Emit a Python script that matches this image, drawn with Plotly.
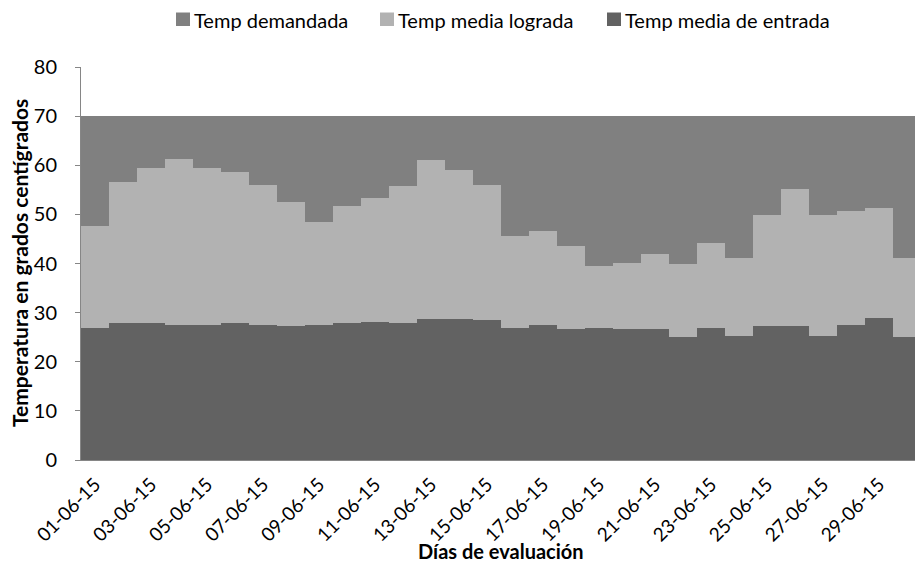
import plotly.graph_objects as go

# ---------------- data ----------------
dias = ["01-06-15", "02-06-15", "03-06-15", "04-06-15", "05-06-15", "06-06-15",
        "07-06-15", "08-06-15", "09-06-15", "10-06-15", "11-06-15", "12-06-15",
        "13-06-15", "14-06-15", "15-06-15", "16-06-15", "17-06-15", "18-06-15",
        "19-06-15", "20-06-15", "21-06-15", "22-06-15", "23-06-15", "24-06-15",
        "25-06-15", "26-06-15", "27-06-15", "28-06-15", "29-06-15", "30-06-15"]
temp_demandada = [70, 70, 70, 70, 70, 70, 70, 70, 70, 70, 70, 70, 70, 70, 70,
                  70, 70, 70, 70, 70, 70, 70, 70, 70, 70, 70, 70, 70, 70, 70]
temp_lograda = [47.7, 56.6, 59.4, 61.2, 59.4, 58.7, 56.0, 52.5, 48.4, 51.7,
                53.4, 55.8, 61.0, 59.0, 55.9, 45.6, 46.6, 43.5, 39.5, 40.2,
                41.9, 39.9, 44.2, 41.2, 49.8, 55.1, 49.8, 50.7, 51.4, 41.2]
temp_entrada = [26.8, 27.8, 27.8, 27.5, 27.5, 27.8, 27.5, 27.2, 27.5, 27.8,
                28.1, 27.8, 28.8, 28.8, 28.6, 26.9, 27.5, 26.6, 26.9, 26.6,
                26.6, 25.0, 26.9, 25.2, 27.2, 27.2, 25.2, 27.5, 28.9, 25.0]
tick_labels = ["01-06-15", "03-06-15", "05-06-15", "07-06-15", "09-06-15",
               "11-06-15", "13-06-15", "15-06-15", "17-06-15", "19-06-15",
               "21-06-15", "23-06-15", "25-06-15", "27-06-15", "29-06-15"]
series_names = ["Temp demandada", "Temp media lograda", "Temp media de entrada"]
y_ticks = [0, 10, 20, 30, 40, 50, 60, 70, 80]

# ---------------- style ----------------
colors = ["#808080", "#b2b2b2", "#626262"]
FONT = "Lato"
W, H = 915, 565
L, R, T, B = 81, 0, 67, 105
plot_w = W - L - R
plot_h = H - T - B


def px_x(px):
    return (px - L) / plot_w


def px_y(py):
    return (H - B - py) / plot_h


fig = go.Figure()
for name, vals, col in zip(series_names,
                           [temp_demandada, temp_lograda, temp_entrada], colors):
    fig.add_trace(go.Bar(x=dias, y=vals, name=name, marker_color=col,
                         marker_line_width=0, width=1.0, showlegend=False))

fig.update_layout(
    width=W, height=H,
    margin=dict(l=L, r=R, t=T, b=B, pad=0),
    barmode="overlay", bargap=0,
    plot_bgcolor="white", paper_bgcolor="white",
    font=dict(family=FONT, color="#000000", size=20),
)
fig.update_xaxes(
    type="category", range=[-0.5, 29.286],
    tickmode="array", tickvals=tick_labels, ticktext=tick_labels,
    tickangle=-45, tickfont=dict(size=19, family=FONT),
    showline=True, linecolor="#868686", linewidth=1,
    ticks="", showgrid=False, ticklabelstandoff=5,
)
fig.update_yaxes(
    range=[0, 80], tickvals=y_ticks,
    tickfont=dict(size=20, family=FONT),
    showline=True, linecolor="#868686", linewidth=1,
    ticks="outside", ticklen=5, tickcolor="#868686",
    showgrid=True, gridcolor="#c8c8c8", gridwidth=1,
    ticklabelstandoff=14, zeroline=False,
)

# axis titles
fig.add_annotation(text="<b>Días de evaluación</b>", xref="paper", yref="paper",
                   x=px_x(501), y=px_y(551), xanchor="center", yanchor="middle",
                   showarrow=False, font=dict(size=20, family=FONT))
fig.add_annotation(text="<b>Temperatura en grados centígrados</b>", xref="paper",
                   yref="paper", x=px_x(19), y=px_y(263), xanchor="center",
                   yanchor="middle", textangle=-90, showarrow=False,
                   font=dict(size=21, family=FONT))

# legend (manual, matching layout)
sq_left = [176, 380, 607]
for name, col, sx in zip(series_names, colors, sq_left):
    fig.add_shape(type="rect", xref="paper", yref="paper",
                  x0=px_x(sx), x1=px_x(sx + 14), y0=px_y(26), y1=px_y(12.5),
                  fillcolor=col, line_width=0)
    fig.add_annotation(text=name, xref="paper", yref="paper",
                       x=px_x(sx + 16), y=px_y(19.5), xanchor="left",
                       yanchor="middle", showarrow=False,
                       font=dict(size=20, family=FONT))

fig.write_html(
    "out.html",
    config={"displayModeBar": False},
    post_script="document.body.style.margin='0';"
                "document.body.style.overflow='hidden';",
)
